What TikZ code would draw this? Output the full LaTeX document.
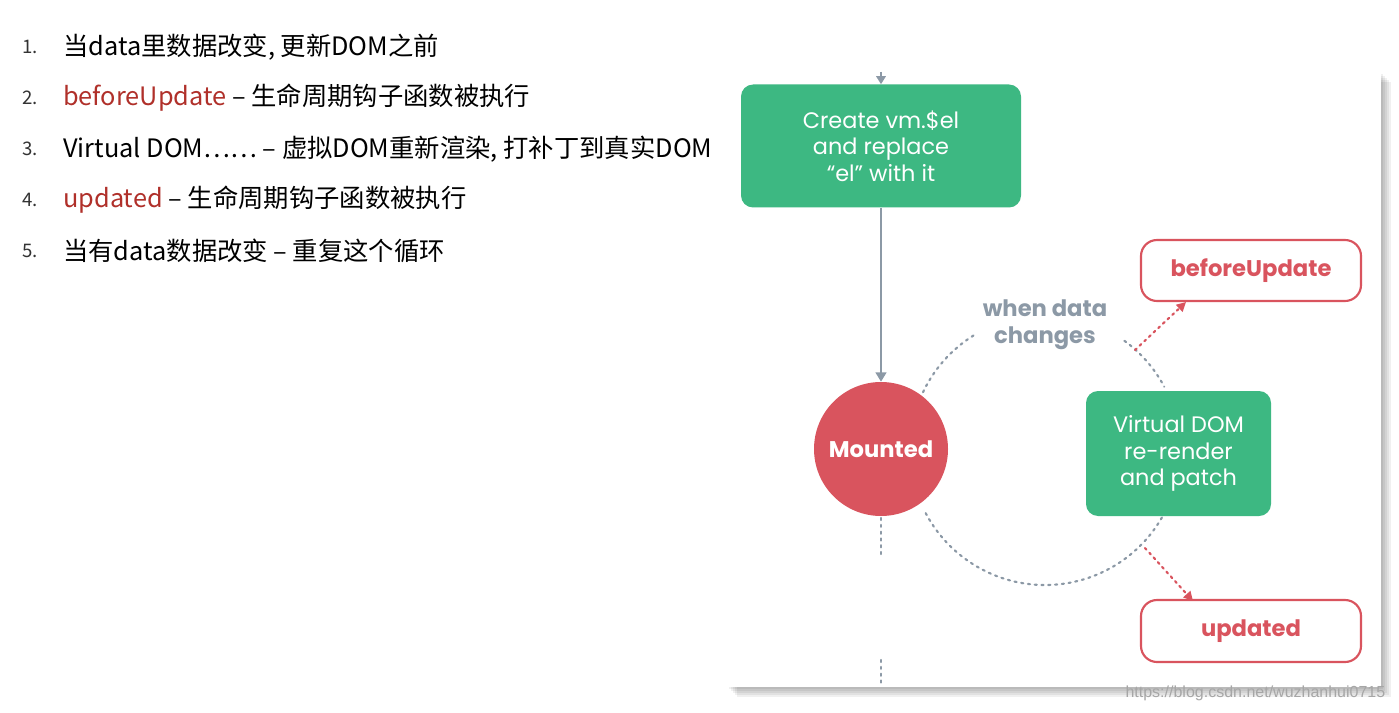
\documentclass[tikz,border=0pt]{standalone}
\usepackage{fontspec}
\setmainfont{Noto Sans CJK SC}
\newfontfamily\pop{Poppins}
\newfontfamily\wm{Liberation Sans}
\usetikzlibrary{arrows.meta}
\definecolor{vgreen}{HTML}{3DB882}
\definecolor{vred}{HTML}{D9545E}
\definecolor{vgray}{HTML}{8C99A6}
\definecolor{hred}{HTML}{B0302A}
\begin{document}
\begin{tikzpicture}[x=0.75pt,y=-0.75pt,
  item/.style={anchor=west,font=\fontsize{19}{22}\selectfont,inner sep=0},
  num/.style={anchor=west,font=\fontsize{14}{16}\selectfont,inner sep=0,text=black!80},
  gbox/.style={fill=vgreen,rounded corners=9pt,text=white,font=\pop\fontsize{16.8}{20}\selectfont,align=center},
  rbox/.style={draw=vred,line width=1.6pt,fill=white,rounded corners=12pt,text=vred,font=\pop\bfseries\fontsize{17}{20}\selectfont},
  dots/.style={vgray,line width=1.6pt,dash pattern=on 1.6pt off 3.5pt,line cap=round},
  rdots/.style={vred,line width=1.6pt,dash pattern=on 1.6pt off 3.2pt,line cap=round,-{Triangle[length=7pt,width=7pt]}}]
\useasboundingbox (0,0) rectangle (1399,713);
\fill[white] (0,0) rectangle (1399,713);
% list
\foreach \n/\y in {1/47,2/98,3/149,4/200,5/251}{\node[num] (n\n) at (22,\y) {\n.};}
\node[item] (t1) at (63,47) {当data里数据改变, 更新DOM之前};
\node[item] (t2) at (63,98) {\textcolor{hred}{beforeUpdate} – 生命周期钩子函数被执行};
\node[item] (t3) at (63,149) {Virtual DOM…… – 虚拟DOM重新渲染, 打补丁到真实DOM};
\node[item] (t4) at (63,200) {\textcolor{hred}{updated} – 生命周期钩子函数被执行};
\node[item] (t5) at (63,251) {当有data数据改变 – 重复这个循环};
% panel shadow
\foreach \i/\o in {1/10,2/8,3/6,4/4,5/2}{\fill[black,opacity=0.06] (727+\o,72+\o) rectangle (1381+\o,687+\o);}
\fill[white] (727,72) rectangle (1381,687);
% nodes
\node[gbox,minimum width=280*0.75pt,minimum height=123*0.75pt] (create) at (881,146) {Create vm.\$el\\and replace\\“el” with it};
\node[circle,fill=vred,minimum size=134*0.75pt,text=white,font=\pop\bfseries\fontsize{17}{20}\selectfont] (mount) at (881,449) {Mounted};
\node[gbox,minimum width=185*0.75pt,minimum height=125*0.75pt] (vdom) at (1178.5,453.5) {Virtual DOM\\re-render\\and patch};
\node[rbox,minimum width=220*0.75pt,minimum height=61*0.75pt] (bu) at (1251,270.5) {beforeUpdate};
\node[rbox,minimum width=220*0.75pt,minimum height=62*0.75pt] (up) at (1251,631) {updated};
\node[text=vgray,font=\pop\bfseries\fontsize{17}{20}\selectfont,align=center] (wdc) at (1045,325) {when data\\changes};
% connectors
\coordinate (top) at (881,72);
\draw[vgray,line width=1.6pt,-{Triangle[length=6pt,width=7pt]}] (top) -- (create.north);
\draw[vgray,line width=1.6pt,-{Triangle[length=7pt,width=8pt]}] (create.south) -- (mount.north);
\coordinate (c) at (1045,450);
\draw[dots] ([shift={(122:135*0.75pt)}]c) arc[start angle=122,end angle=155,radius=135*0.75pt];
\draw[dots] ([shift={(54:135*0.75pt)}]c) arc[start angle=54,end angle=28,radius=135*0.75pt];
\draw[dots] ([shift={(-30:135*0.75pt)}]c) arc[start angle=-30,end angle=-154,radius=135*0.75pt];
\coordinate (d1) at (881,518); \coordinate (d2) at (881,557);
\coordinate (d3) at (881,660); \coordinate (d4) at (881,687);
\draw[dots] (d1) -- (d2); \draw[dots] (d3) -- (d4);
\coordinate (ba) at (1135,350); \coordinate (ua) at (1145,548);
\draw[rdots] (ba) -- (1186,302);
\draw[rdots] (ua) -- (1193,601);
\node[text=black!35,font=\wm\fontsize{12}{14}\selectfont,anchor=east] (wmk) at (1390,693) {https://blog.csdn.net/wuzhanhui0715};
\end{tikzpicture}
\end{document}
